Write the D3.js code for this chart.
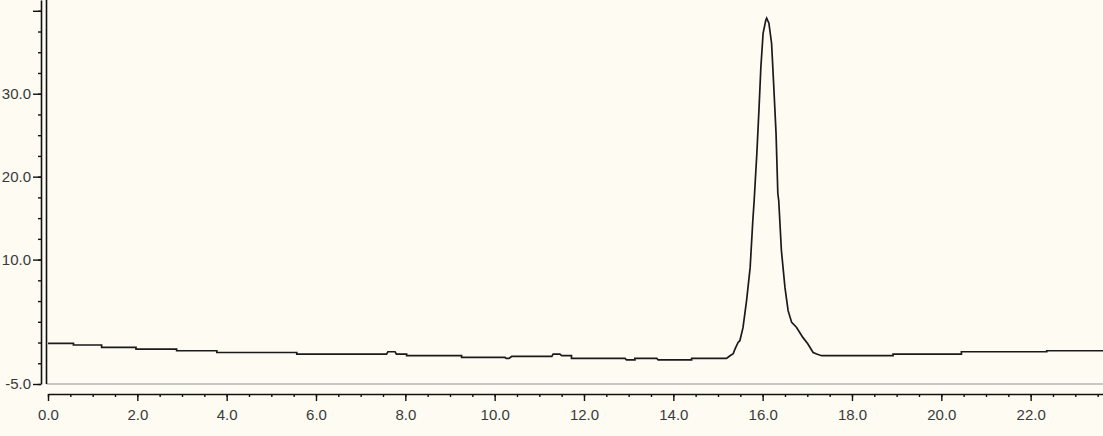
<!DOCTYPE html>
<html>
<head>
<meta charset="utf-8">
<script src="https://cdn.jsdelivr.net/npm/d3@7"></script>
<style>
body { margin: 0; background: #fdfbf2; }
svg { display: block; }
.lbl text { font-family: "Liberation Sans Narrow", "Arial Narrow", "Liberation Sans", sans-serif; font-size: 15px; fill: #3a3a3a; }
</style>
</head>
<body>
<div id="cont"></div>
<script>
// chromatogram data (time in min, signal)
var time = [0, 0.57, 0.57, 1.20, 1.20, 1.97, 1.97, 2.88, 2.88, 3.78, 3.78, 5.57, 5.57, 7.58,
	7.61, 7.77, 7.80, 8.03, 8.03, 9.26, 9.26, 10.23, 10.26, 10.32, 10.38, 11.28, 11.31, 11.46,
	11.50, 11.72, 11.72, 12.92, 12.95, 13.14, 13.14, 13.63, 13.66, 14.41, 14.41, 15.19,
	15.27, 15.34, 15.38, 15.45, 15.49, 15.56, 15.64, 15.72, 15.78, 15.81, 15.87, 15.92, 15.96,
	16.01, 16.07, 16.09, 16.14, 16.20, 16.25, 16.30, 16.34, 16.36, 16.42, 16.50, 16.57, 16.65,
	16.76, 16.90, 17.01, 17.13, 17.21, 17.32, 18.92, 18.92, 20.45, 20.45, 22.36, 22.36, 23.62];
var signal = [-0.11, -0.11, -0.30, -0.30, -0.59, -0.59, -0.79, -0.79, -0.99, -0.99, -1.20, -1.20, -1.39, -1.39,
	-1.11, -1.11, -1.39, -1.39, -1.59, -1.59, -1.80, -1.80, -1.92, -1.92, -1.68, -1.68, -1.39, -1.39,
	-1.59, -1.59, -1.92, -1.92, -2.08, -2.08, -1.92, -1.92, -2.08, -2.08, -1.92, -1.92,
	-1.59, -1.35, -0.79, 0.01, 0.22, 1.79, 5.05, 9.03, 14.71, 17.12, 22.80, 28.35, 33.19,
	37.29, 38.86, 39.11, 38.50, 36.09, 30.77, 25.22, 17.97, 17.12, 11.09, 6.62, 3.84, 2.43,
	1.82, 0.62, -0.14, -1.20, -1.39, -1.59, -1.59, -1.39, -1.39, -1.11, -1.11, -0.99, -0.99];

var yMajor = [-5, 10, 20, 30, 40];
var yLabels = ["-5.0", "10.0", "20.0", "30.0", ""];
var xMajor = [0, 2, 4, 6, 8, 10, 12, 14, 16, 18, 20, 22];

var W = 1103, H = 436;
var svg = d3.select("#cont").append("svg").attr("width", W).attr("height", H);
svg.append("rect").attr("width", W).attr("height", H).attr("fill", "#fdfbf2");

var x = d3.scaleLinear().domain([0, 23.62]).range([48, 1103]);
var y = d3.scaleLinear().domain([-5, 41.3]).range([384, 0]);

// minor ticks
svg.append("g").attr("transform", "translate(41,0)")
	.call(d3.axisLeft(y).tickValues(d3.range(-5, 41.3, 2.5)).tickSize(3).tickFormat(""))
	.call(function(g) { g.select(".domain").remove(); })
	.selectAll("line").attr("stroke", "#111").attr("stroke-width", 1.4);

var ya = svg.append("g").attr("class", "lbl").attr("transform", "translate(41,0)")
	.call(d3.axisLeft(y).tickValues(yMajor).tickSize(8).tickSizeOuter(0).tickPadding(2)
		.tickFormat(function(d, i) { return yLabels[i]; }));
ya.select(".domain").attr("stroke", "#111").attr("stroke-width", 1.6);
ya.selectAll("line").attr("stroke", "#111").attr("stroke-width", 1.4);

svg.append("g").attr("transform", "translate(0,394)")
	.call(d3.axisBottom(x).tickValues(d3.range(0, 23.62, 0.5)).tickSize(3).tickFormat(""))
	.call(function(g) { g.select(".domain").remove(); })
	.selectAll("line").attr("stroke", "#111").attr("stroke-width", 1.4);

var xa = svg.append("g").attr("class", "lbl").attr("transform", "translate(0,394)")
	.call(d3.axisBottom(x).tickValues(xMajor).tickSize(7).tickSizeOuter(0).tickPadding(8)
		.tickFormat(d3.format(".1f")));
xa.select(".domain").attr("stroke", "#111").attr("stroke-width", 1.6);
xa.selectAll("line").attr("stroke", "#111").attr("stroke-width", 1.4);

// plot frame
svg.append("line").attr("x1", 46.5).attr("x2", W).attr("y1", y(-5)).attr("y2", y(-5))
	.attr("stroke", "#b4b4b0").attr("stroke-width", 1.6);
svg.append("line").attr("x1", 46.5).attr("x2", 46.5).attr("y1", 0).attr("y2", y(-5))
	.attr("stroke", "#111").attr("stroke-width", 1.6);

var line = d3.line()
	.x(function(d, i) { return x(time[i]); })
	.y(function(d, i) { return y(signal[i]); });

svg.append("path").datum(time)
	.attr("fill", "none")
	.attr("stroke", "#1a1a1a")
	.attr("stroke-width", 1.7)
	.attr("d", line);
</script>
</body>
</html>
